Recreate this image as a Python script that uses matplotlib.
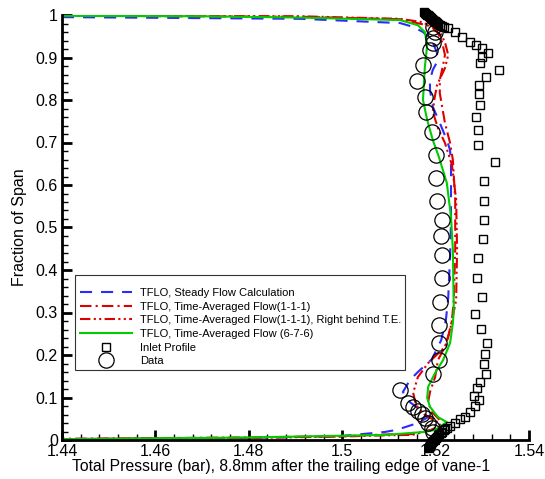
import matplotlib
matplotlib.use("Agg")
import matplotlib.pyplot as plt
from matplotlib.ticker import MultipleLocator, FuncFormatter
from matplotlib.patches import Rectangle

plt.rcParams['font.family'] = ['Liberation Sans', 'DejaVu Sans']

# ---- data ----
steady_x = [1.44, 1.491, 1.5124, 1.5152, 1.5173, 1.5192, 1.5203, 1.5203, 1.5194, 1.5188, 1.5188, 1.5194,
            1.5209, 1.5224, 1.5231, 1.5233, 1.5233, 1.5233, 1.5231, 1.5229, 1.5227, 1.5222, 1.5212, 1.5192,
            1.5162, 1.5145, 1.5130, 1.5145, 1.5167, 1.5184, 1.5162, 1.5117, 1.5092, 1.4995, 1.4803, 1.44]
steady_y = [0.995, 0.991, 0.981, 0.972, 0.960, 0.941, 0.911, 0.889, 0.871, 0.847, 0.824, 0.784,
            0.746, 0.706, 0.682, 0.647, 0.595, 0.518, 0.431, 0.384, 0.334, 0.282, 0.235, 0.190,
            0.160, 0.141, 0.113, 0.089, 0.071, 0.054, 0.040, 0.024, 0.019, 0.009, 0.005, 0.002]

ta111_x = [1.44, 1.491, 1.5124, 1.5160, 1.5182, 1.5194, 1.5205, 1.5214, 1.5220, 1.5216, 1.5209, 1.5209,
           1.5214, 1.5220, 1.5231, 1.5237, 1.5242, 1.5242, 1.5239, 1.5235, 1.5224, 1.5205, 1.5199, 1.5188,
           1.5184, 1.5192, 1.5209, 1.5209, 1.5192, 1.5150, 1.5092, 1.4995, 1.4803, 1.44]
ta111_y = [0.998, 0.996, 0.990, 0.981, 0.976, 0.969, 0.958, 0.936, 0.906, 0.882, 0.847, 0.816,
           0.784, 0.746, 0.699, 0.659, 0.565, 0.447, 0.329, 0.282, 0.228, 0.188, 0.148, 0.113,
           0.089, 0.066, 0.047, 0.035, 0.024, 0.014, 0.013, 0.009, 0.006, 0.003]

tate_x = [1.44, 1.491, 1.5124, 1.5167, 1.5192, 1.5209, 1.5220, 1.5227, 1.5220, 1.5203, 1.5197, 1.5194,
          1.5205, 1.5220, 1.5235, 1.5244, 1.5246, 1.5244, 1.5231, 1.5220, 1.5184, 1.5162, 1.5152, 1.5158,
          1.5177, 1.5205, 1.5192, 1.5150, 1.5092, 1.4995, 1.4803, 1.44]
tate_y = [0.999, 0.997, 0.991, 0.984, 0.974, 0.960, 0.936, 0.906, 0.875, 0.835, 0.800, 0.772,
          0.734, 0.699, 0.647, 0.565, 0.447, 0.329, 0.259, 0.219, 0.181, 0.148, 0.111, 0.082,
          0.059, 0.042, 0.024, 0.012, 0.011, 0.008, 0.005, 0.002]

ta676_x = [1.44, 1.47, 1.491, 1.5124, 1.5162, 1.5177, 1.5182, 1.5177, 1.5173, 1.5182, 1.5194, 1.5207,
           1.5224, 1.5233, 1.5237, 1.5238, 1.5239, 1.5237, 1.5231, 1.5216, 1.5199, 1.5184, 1.5182, 1.5188,
           1.5205, 1.5224, 1.5199, 1.5177, 1.5092, 1.4995, 1.4803, 1.44]
ta676_y = [0.998, 0.997, 0.994, 0.988, 0.976, 0.960, 0.929, 0.878, 0.800, 0.753, 0.706, 0.666,
           0.605, 0.525, 0.447, 0.369, 0.306, 0.275, 0.228, 0.188, 0.158, 0.125, 0.099, 0.078,
           0.054, 0.042, 0.024, 0.019, 0.012, 0.010, 0.006, 0.002]

inlet_x = [1.5176, 1.5178, 1.5180, 1.5182, 1.5184, 1.5186, 1.5188, 1.5190, 1.5192, 1.5194, 1.5196, 1.5198,
           1.5200, 1.5203, 1.5206, 1.5209, 1.5213, 1.5218, 1.5227, 1.5242,
           1.5257, 1.5274, 1.5287, 1.5299, 1.5312, 1.5299, 1.5295, 1.5336, 1.5308, 1.5293, 1.5293, 1.5295,
           1.5287, 1.5291, 1.5291, 1.5327, 1.5304, 1.5304, 1.5304, 1.5301, 1.5291, 1.5289, 1.5299, 1.5284,
           1.5297, 1.5310, 1.5306, 1.5304, 1.5308, 1.5295, 1.5289, 1.5282, 1.5293, 1.5284, 1.5274, 1.5263,
           1.5252, 1.5242, 1.5231, 1.5224, 1.5220, 1.5217, 1.5214, 1.5211, 1.5208, 1.5205, 1.5202, 1.5200,
           1.5198, 1.5196, 1.5194, 1.5192, 1.5191, 1.5190, 1.5189, 1.5188, 1.5187, 1.5186, 1.5185]
inlet_y = [1.007, 1.005, 1.003, 1.001, 0.999, 0.997, 0.995, 0.993, 0.991, 0.989, 0.987, 0.985,
           0.983, 0.981, 0.979, 0.977, 0.975, 0.972, 0.969, 0.960,
           0.948, 0.936, 0.929, 0.922, 0.911, 0.901, 0.887, 0.871, 0.854, 0.835, 0.814, 0.788,
           0.760, 0.729, 0.694, 0.654, 0.609, 0.562, 0.518, 0.473, 0.428, 0.381, 0.336, 0.296,
           0.261, 0.228, 0.202, 0.179, 0.155, 0.136, 0.122, 0.104, 0.094, 0.080, 0.066, 0.054,
           0.049, 0.040, 0.033, 0.028, 0.026, 0.023, 0.020, 0.017, 0.014, 0.011, 0.008, 0.005,
           0.002, -0.001, -0.003, -0.005, -0.007, -0.009, -0.011, -0.013, -0.015, -0.017, -0.019]

data_x = [1.5194, 1.5192, 1.5184, 1.5177, 1.5171, 1.5162, 1.5152, 1.5141, 1.5124, 1.5194, 1.5207, 1.5207,
          1.5207, 1.5209, 1.5214, 1.5214, 1.5212, 1.5214, 1.5203, 1.5201, 1.5201, 1.5192, 1.5179, 1.5177,
          1.5160, 1.5173, 1.5188, 1.5194, 1.5194, 1.5199, 1.5194]
data_y = [0.019, 0.028, 0.040, 0.052, 0.061, 0.068, 0.078, 0.087, 0.118, 0.155, 0.188, 0.228,
          0.271, 0.325, 0.381, 0.435, 0.480, 0.518, 0.562, 0.616, 0.671, 0.725, 0.772, 0.807,
          0.845, 0.882, 0.918, 0.934, 0.946, 0.960, 0.972]

labels = ["TFLO, Steady Flow Calculation",
          "TFLO, Time-Averaged Flow(1-1-1)",
          "TFLO, Time-Averaged Flow(1-1-1), Right behind T.E.",
          "TFLO, Time-Averaged Flow (6-7-6)",
          "Inlet Profile",
          "Data"]

xlabel = "Total Pressure (bar), 8.8mm after the trailing edge of vane-1"
ylabel = "Fraction of Span"

# ---- figure ----
W, H = 545, 479
fig = plt.figure(figsize=(W / 100, H / 100), dpi=100)
L, R, B, T = 62, 529, 440, 15
ax = fig.add_axes([L / W, 1 - B / H, (R - L) / W, (B - T) / H])

def axfrac(px, py):
    return (px - L) / (R - L), (B - py) / (B - T)

blue = "#2b2bff"
red = "#dd0000"
green = "#00cc00"

ax.plot(steady_x, steady_y, color=blue, lw=1.5, ls=(0, (5.8, 4.3)), label=labels[0])
ax.plot(ta111_x, ta111_y, color=red, lw=1.5, ls=(0, (5.5, 2.0, 1.0, 2.0)), label=labels[1])
ax.plot(tate_x, tate_y, color=red, lw=1.5, ls=(0, (5.0, 1.6, 1.0, 1.6, 1.0, 1.6)), label=labels[2])
ax.plot(ta676_x, ta676_y, color=green, lw=1.5, ls='-', label=labels[3])
ax.plot(inlet_x, inlet_y, ls='none', marker='s', ms=5.5, mfc='none', mec='black', mew=1.0,
        label=labels[4], clip_on=False)
ax.plot(data_x, data_y, ls='none', marker='o', ms=11, mfc='none', mec='black', mew=0.9,
        label=labels[5], clip_on=False)

ax.set_xlim(1.44, 1.54)
ax.set_ylim(0, 1)

for s in ['top', 'right']:
    ax.spines[s].set_visible(False)
for s in ['left', 'bottom']:
    ax.spines[s].set_linewidth(2)

ax.xaxis.set_major_locator(MultipleLocator(0.02))
ax.xaxis.set_minor_locator(MultipleLocator(0.004))
ax.yaxis.set_major_locator(MultipleLocator(0.1))
ax.yaxis.set_minor_locator(MultipleLocator(0.02))
fmt = FuncFormatter(lambda v, p: ("%.2f" % v).rstrip('0').rstrip('.') if abs(v) > 1e-9 else "0")
ax.xaxis.set_major_formatter(fmt)
ax.yaxis.set_major_formatter(fmt)
ax.tick_params(which='major', direction='in', length=7, width=2, labelsize=11.5, pad=3)
ax.tick_params(which='minor', direction='in', length=4, width=1)
ax.tick_params(top=False, right=False)

ax.set_xlabel(xlabel, fontsize=11.3)
ax.xaxis.set_label_coords(*axfrac(281, 459))
ax.set_ylabel(ylabel, fontsize=11.5, labelpad=6)

# legend box
x0, y0 = axfrac(75, 370)
x1, y1 = axfrac(405, 275)
ax.add_patch(Rectangle((x0, y0), x1 - x0, y1 - y0, transform=ax.transAxes, fill=False,
                       edgecolor='#333333', lw=0.8, zorder=5, clip_on=False))
ax_anchor = axfrac(80, 288)
leg = ax.legend(loc='upper left', bbox_to_anchor=ax_anchor, frameon=False,
                fontsize=8.0, handlelength=4.7, handletextpad=0.7,
                labelspacing=0.33, borderpad=0.0, borderaxespad=0.0, numpoints=1)

fig.savefig("out.png", dpi=100)
